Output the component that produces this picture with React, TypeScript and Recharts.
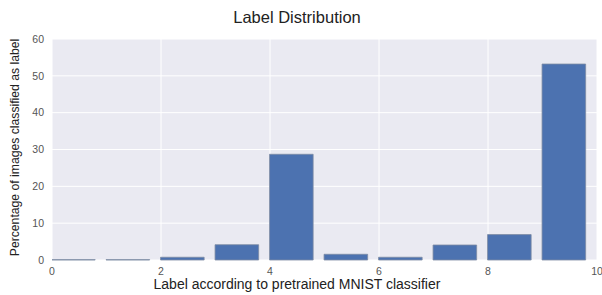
import { BarChart, Bar, XAxis, YAxis, CartesianGrid } from "recharts";

const labels = [0, 1, 2, 3, 4, 5, 6, 7, 8, 9];
const percentages = [0.1, 0.1, 0.75, 4.15, 28.7, 1.55, 0.75, 4.07, 6.9, 53.2];
const xTicks = [0, 2, 4, 6, 8, 10];
const yTicks = [0, 10, 20, 30, 40, 50, 60];

// matplotlib-style bars: left edge on the label, width 0.8
const BAR_WIDTH = 0.8;

const data = labels.map((label, i) => ({ label, pct: percentages[i] }));

const FONT = '"Liberation Sans", Arial, sans-serif';
const tickStyle = { fontSize: 10.5, fill: "#555", fontFamily: FONT };

export default function App() {
  return (
    <div style={{ position: "absolute", left: 0, top: 0, width: 602, height: 295, background: "#fff", fontFamily: FONT }}>
      <div style={{ position: "absolute", left: 0, width: 594, top: 8, textAlign: "center", fontSize: 16.5, color: "#222" }}>
        Label Distribution
      </div>
      <BarChart
        width={602}
        height={295}
        data={data}
        margin={{ top: 39, right: 5, bottom: 0, left: 0 }}
        barCategoryGap={0}
      >
        <CartesianGrid fill="#EAEAF2" stroke="#fff" strokeWidth={1} />
        <XAxis
          type="number"
          dataKey={(d: { label: number }) => d.label + BAR_WIDTH / 2}
          domain={[0, 10]}
          ticks={xTicks}
          allowDataOverflow
          axisLine={false}
          tickLine={false}
          tickSize={0}
          tickMargin={8}
          height={35}
          tick={tickStyle}
          interval={0}
        />
        <YAxis
          domain={[0, 60]}
          ticks={yTicks}
          axisLine={false}
          tickLine={false}
          tickSize={0}
          tickMargin={8}
          width={52}
          tick={tickStyle}
          interval={0}
          label={{
            value: "Percentage of images classified as label",
            angle: -90,
            position: "insideLeft",
            offset: 15,
            dy: -2,
            style: { textAnchor: "middle", fontSize: 12.2, fill: "#222", fontFamily: FONT },
          }}
        />
        <Bar
          dataKey="pct"
          fill="#4C72B0"
          stroke="#7d8ba3"
          strokeWidth={0.8}
          barSize={43.6}
          isAnimationActive={false}
        />
      </BarChart>
      <div style={{ position: "absolute", left: 0, width: 594, top: 276, textAlign: "center", fontSize: 14, color: "#222" }}>
        Label according to pretrained MNIST classifier
      </div>
    </div>
  );
}
